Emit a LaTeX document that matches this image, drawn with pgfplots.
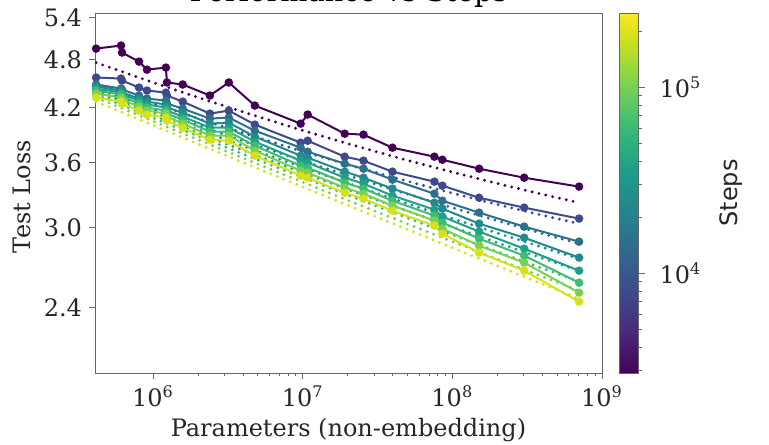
\documentclass[border=0pt]{standalone}
\usepackage{fontspec}
\setmainfont{DejaVu Serif}
\newfontfamily\stepsfont{DejaVu Sans}
\usepackage{pgfplots}
\usepackage{pgfplotstable}
\pgfplotsset{compat=1.18}

\definecolor{c1}{HTML}{440154}
\definecolor{c2}{HTML}{3E4A89}
\definecolor{c3}{HTML}{2E6F8E}
\definecolor{c4}{HTML}{23898E}
\definecolor{c5}{HTML}{1FA187}
\definecolor{c6}{HTML}{3DBC74}
\definecolor{c7}{HTML}{7AD151}
\definecolor{c8}{HTML}{D5E21A}
\definecolor{axgray}{HTML}{666666}

\newcommand{\fs}{\fontsize{12}{14}\selectfont}

% test loss of each run, one column per step count (dark = few steps)
\pgfplotstableread{
N       s1    s2    s3    s4    s5    s6    s7    s8
4.17e5  4.952 4.567 4.479 4.454 4.429 4.404 4.367 4.318
6.12e5  4.994 4.554 4.429 4.404 4.379 4.355 4.318 4.270
6.21e5  4.897 4.529 4.416 4.379 4.355 4.331 4.294 4.246
8.07e5  4.775 4.441 4.343 4.306 4.282 4.246 4.211 4.164
9.12e5  4.669 4.404 4.306 4.270 4.235 4.199 4.164 4.118
1.22e6  4.696 4.379 4.282 4.235 4.199 4.164 4.129 4.083
1.24e6  4.504 4.343 4.246 4.199 4.164 4.129 4.095 4.049
1.58e6  4.479 4.270 4.187 4.141 4.095 4.060 4.015 3.970
2.40e6  4.343 4.129 4.072 4.015 3.970 3.926 3.883 3.839
3.21e6  4.504 4.164 4.083 4.026 3.970 3.926 3.883 3.828
4.79e6  4.223 4.004 3.937 3.872 3.818 3.775 3.723 3.671
9.70e6  4.015 3.807 3.754 3.671 3.620 3.570 3.520 3.472
1.08e7  4.118 3.828 3.712 3.651 3.600 3.550 3.501 3.452
1.91e7  3.904 3.661 3.590 3.511 3.452 3.405 3.357 3.310
2.55e7  3.894 3.620 3.540 3.452 3.395 3.348 3.301 3.255
3.98e7  3.754 3.511 3.433 3.348 3.283 3.237 3.193 3.148
7.59e7  3.661 3.414 3.301 3.219 3.157 3.105 3.062 3.019
8.58e7  3.630 3.376 3.237 3.166 3.096 3.045 2.994 2.952
1.51e8  3.540 3.264 3.131 3.036 2.969 2.911 2.855 2.800
3.02e8  3.452 3.175 3.011 2.919 2.831 2.776 2.722 2.662
7.03e8  3.367 3.079 2.887 2.761 2.662 2.574 2.503 2.441
}\runs

% fitted curves (dotted)
\pgfplotstableread{
N       f1    f2    f3    f4    f5    f6    f7    f8
4.17e5  4.762 4.491 4.429 4.404 4.379 4.355 4.318 4.270
9.55e5  4.518 4.261 4.190 4.155 4.123 4.093 4.057 4.011
2.06e6  4.312 4.066 3.989 3.943 3.904 3.870 3.831 3.786
4.43e6  4.124 3.889 3.802 3.746 3.701 3.660 3.619 3.574
9.55e6  3.950 3.725 3.628 3.563 3.512 3.465 3.421 3.376
2.06e7  3.791 3.575 3.469 3.393 3.334 3.282 3.234 3.189
4.43e7  3.646 3.439 3.320 3.235 3.170 3.111 3.061 3.014
9.55e7  3.514 3.313 3.183 3.089 3.016 2.951 2.897 2.848
2.06e8  3.392 3.199 3.056 2.952 2.873 2.801 2.743 2.692
4.43e8  3.281 3.094 2.937 2.825 2.738 2.661 2.599 2.545
7.03e8  3.219 3.036 2.871 2.753 2.662 2.581 2.517 2.461
}\fits

\pgfplotsset{
  run/.style={line width=1pt, mark=*, mark size=1.6pt, mark options={solid}},
  fit/.style={line width=1.6pt, line cap=round, dash pattern=on 0pt off 3.5pt, no marks},
}

\begin{document}
\begin{tikzpicture}
\begin{axis}[
    name=main,
    scale only axis,
    width=253.5pt, height=180pt,
    xmode=log, ymode=log,
    xmin=4.1e5, xmax=1e9,
    ymin=2.0, ymax=5.47,
    xtick={1e6,1e7,1e8,1e9},
    xticklabels={10\textsuperscript{6},10\textsuperscript{7},10\textsuperscript{8},10\textsuperscript{9}},
    ytick={2.4,3.0,3.6,4.2,4.8,5.4},
    yticklabels={2.4,3.0,3.6,4.2,4.8,5.4},
    yminorticks=false,
    tick pos=left, tick align=outside,
    major tick length=3pt, minor tick length=1.6pt,
    axis line style={axgray},
    every tick/.style={axgray},
    tick label style={font=\fs, text=black!85},
    xlabel={Parameters (non-embedding)},
    ylabel={Test Loss},
    label style={font=\fs, text=black!85},
    xlabel style={at={(axis description cs:0.5,0)}, anchor=base, yshift=-32pt},
    ylabel style={at={(axis description cs:-0.144,0.49)}, anchor=center},
    colorbar,
    colormap/viridis,
    point meta min=3.462, point meta max=5.398,
    colorbar style={
        scale only axis,
        xmode=normal, ymode=normal,
        width=9.75pt,
        at={([xshift=15.5pt]parent axis.north east)}, anchor=north west,
        ytick={4,5},
        yticklabels={10\textsuperscript{4},10\textsuperscript{5}},
        minor ytick={3.477,3.602,3.699,3.778,3.845,3.903,3.954,
                     4.301,4.477,4.602,4.699,4.778,4.845,4.903,4.954,5.301},
        ytick pos=right, yticklabel pos=right,
        tick align=outside,
        major tick length=3pt, minor tick length=1.6pt,
        axis line style={axgray},
        every tick/.style={axgray},
        yticklabel style={font=\fs, text=black!85, xshift=4pt},
        ylabel={\stepsfont Steps},
        ylabel style={font=\fs, text=black!85, yshift=-2.5pt},
    },
]
\addplot[c1, run] table[x=N, y=s1] {\runs};
\addplot[c1, fit] table[x=N, y=f1] {\fits};
\addplot[c2, run] table[x=N, y=s2] {\runs};
\addplot[c2, fit] table[x=N, y=f2] {\fits};
\addplot[c3, run] table[x=N, y=s3] {\runs};
\addplot[c3, fit] table[x=N, y=f3] {\fits};
\addplot[c4, run] table[x=N, y=s4] {\runs};
\addplot[c4, fit] table[x=N, y=f4] {\fits};
\addplot[c5, run] table[x=N, y=s5] {\runs};
\addplot[c5, fit] table[x=N, y=f5] {\fits};
\addplot[c6, run] table[x=N, y=s6] {\runs};
\addplot[c6, fit] table[x=N, y=f6] {\fits};
\addplot[c7, run] table[x=N, y=s7] {\runs};
\addplot[c7, fit] table[x=N, y=f7] {\fits};
\addplot[c8, run] table[x=N, y=s8] {\runs};
\addplot[c8, fit] table[x=N, y=f8] {\fits};
\end{axis}
\node[anchor=base, font=\fontsize{14.4}{17}\selectfont] at ([yshift=5.8pt]main.north) {Performance vs Steps};
\pgfresetboundingbox
\path[use as bounding box] ([shift={(-47.5pt,-35.5pt)}]main.south west) rectangle ([shift={(337pt,186.5pt)}]main.south west);
\end{tikzpicture}
\end{document}
